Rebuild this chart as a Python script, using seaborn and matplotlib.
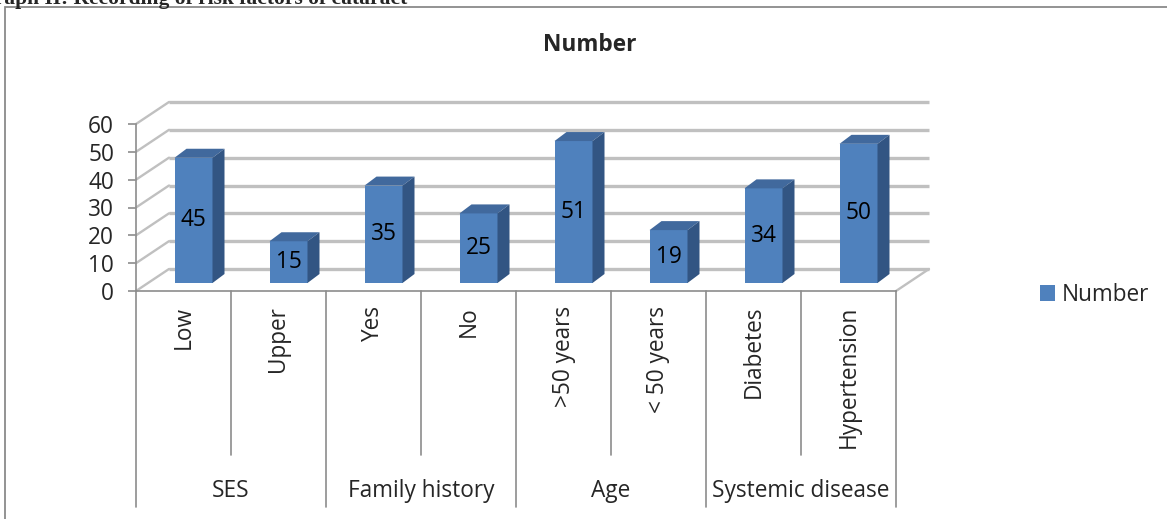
import numpy as np
import pandas as pd
import matplotlib
matplotlib.use("Agg")
import matplotlib.pyplot as plt
import matplotlib.transforms as mtrans
from matplotlib.patches import Polygon, Rectangle, Patch
from matplotlib.lines import Line2D
import seaborn as sns

# ---- data ----
categories = ["Low", "Upper", "Yes", "No", ">50 years", "< 50 years", "Diabetes", "Hypertension"]
groups = ["SES", "SES", "Family history", "Family history", "Age", "Age",
          "Systemic disease", "Systemic disease"]
values = [45, 15, 35, 25, 51, 19, 34, 50]
group_names = ["SES", "Family history", "Age", "Systemic disease"]
series_name = "Number"
y_ticks = [0, 10, 20, 30, 40, 50, 60]
doc_title = "Graph II: Recording of risk factors of cataract"

# ---- style ----
FRONT = "#4F81BD"
TOP = "#41699D"
SIDE = "#325583"
GRID = "#C0C0C0"
AXC = "#8C8C8C"
FS = 16.3

W, H = 1167, 519
sns.set_theme(style="white")
plt.rcParams["font.family"] = ["Open Sans", "DejaVu Sans"]

fig = plt.figure(figsize=(W / 100, H / 100), dpi=100)
AX_L, AX_R, AX_B, AX_T = 136, 896, 291, 124
ax = fig.add_axes([AX_L / W, 1 - AX_B / H, (AX_R - AX_L) / W, (AX_B - AX_T) / H])

df = pd.DataFrame({"category": categories, "group": groups, "value": values})
sns.barplot(data=df, x="category", y="value", color=FRONT, width=0.4,
            saturation=1, linewidth=0, ax=ax, zorder=3)
n = len(categories)
ax.set_xlim(-0.5, n - 0.5)
ax.set_ylim(y_ticks[0], y_ticks[-1])

# pixel -> data conversion
sx = (AX_R - AX_L) / n
sy = (AX_B - AX_T) / (y_ticks[-1] - y_ticks[0])
DX, DY = 33 / sx, 22 / sy          # depth of the wall
BDX, BDY = 12 / sx, 9 / sy         # depth of each bar

# walls / gridlines
x_left, x_right = -0.5, n - 0.5
for v in y_ticks:
    ax.add_line(Line2D([x_left + DX, x_right + DX], [v + DY, v + DY], color=GRID,
                       lw=2.4, zorder=1, clip_on=False, solid_capstyle="butt"))
    ax.add_line(Line2D([x_left, x_left + DX], [v, v + DY], color=GRID,
                       lw=1.7, zorder=1, clip_on=False))
ax.add_line(Line2D([x_right, x_right + DX], [0, DY], color=GRID, lw=1.7,
                   zorder=1, clip_on=False))

# bars: shift to middle depth and add 3D faces
shift = mtrans.offset_copy(ax.transData, fig=fig, x=10, y=8, units="dots")
for p, v in zip(ax.patches, values):
    x0, w, h = p.get_x(), p.get_width(), p.get_height()
    p.set_transform(shift)
    p.set_clip_on(False)
    top = Polygon([(x0, h), (x0 + w, h), (x0 + w + BDX, h + BDY), (x0 + BDX, h + BDY)],
                  closed=True, facecolor=TOP, edgecolor="none", transform=shift,
                  zorder=3, clip_on=False)
    side = Polygon([(x0 + w, 0), (x0 + w + BDX, BDY), (x0 + w + BDX, h + BDY), (x0 + w, h)],
                   closed=True, facecolor=SIDE, edgecolor="none", transform=shift,
                   zorder=3, clip_on=False)
    ax.add_patch(top)
    ax.add_patch(side)
    ax.text(x0 + w / 2, h / 2, str(v), transform=shift, ha="center", va="center",
            fontsize=FS, color="black", zorder=5)

# axes styling
for s in ["top", "right"]:
    ax.spines[s].set_visible(False)
ax.spines["left"].set_color(AXC)
ax.spines["bottom"].set_color(AXC)
ax.spines["left"].set_linewidth(1.2)
ax.spines["bottom"].set_linewidth(1.2)
ax.set_yticks(y_ticks)
ax.set_yticklabels([str(t) for t in y_ticks], fontsize=FS)
ax.tick_params(axis="y", length=5.8, width=1.2, color=AXC, pad=10, left=True)
ax.set_xticks([])
ax.set_xlabel("")
ax.set_ylabel("")
ax.patch.set_alpha(0)

# multi-level category axis
xt = ax.get_xaxis_transform()
def ya(px):
    return (AX_B - px) / (AX_B - AX_T)

for k in range(n + 1):
    bx = -0.5 + k
    bottom = 507 if k % 2 == 0 else 455
    ax.add_line(Line2D([bx, bx], [0, ya(bottom)], transform=xt, color=AXC,
                       lw=1.2, clip_on=False))
for i, c in enumerate(categories):
    ax.text(i, ya(306), c, transform=xt, rotation=90, ha="center", va="top",
            fontsize=FS)
for gi, g in enumerate(group_names):
    idx = [i for i, gg in enumerate(groups) if gg == g]
    ax.text(np.mean(idx), ya(491), g, transform=xt, ha="center", va="center",
            fontsize=FS)

# legend
ax.legend(handles=[Patch(facecolor=FRONT, edgecolor="none", label=series_name)],
          loc="center left", bbox_to_anchor=(1040 / W, 1 - 295 / H),
          bbox_transform=fig.transFigure, frameon=False, handlelength=0.65,
          handleheight=0.65, handletextpad=0.3, fontsize=FS, borderpad=0,
          borderaxespad=0)

# chart title
fig.text(590 / W, 1 - 45 / H, series_name, ha="center", va="center",
         fontsize=FS, fontweight="bold")

# chart border (left and top visible)
fig.add_artist(Rectangle((5 / W, -0.2), 1.5, 1.2 - 7 / H, transform=fig.transFigure,
                         fill=False, edgecolor="#8a8a8a", lw=1.3))

# cut-off document caption above the chart
fig.text(-22 / W, 1 - 4 / H, doc_title, ha="left", va="baseline",
         fontsize=15.5, fontweight="bold", family=["Liberation Serif", "DejaVu Serif"])

fig.savefig("out.png", dpi=100)
